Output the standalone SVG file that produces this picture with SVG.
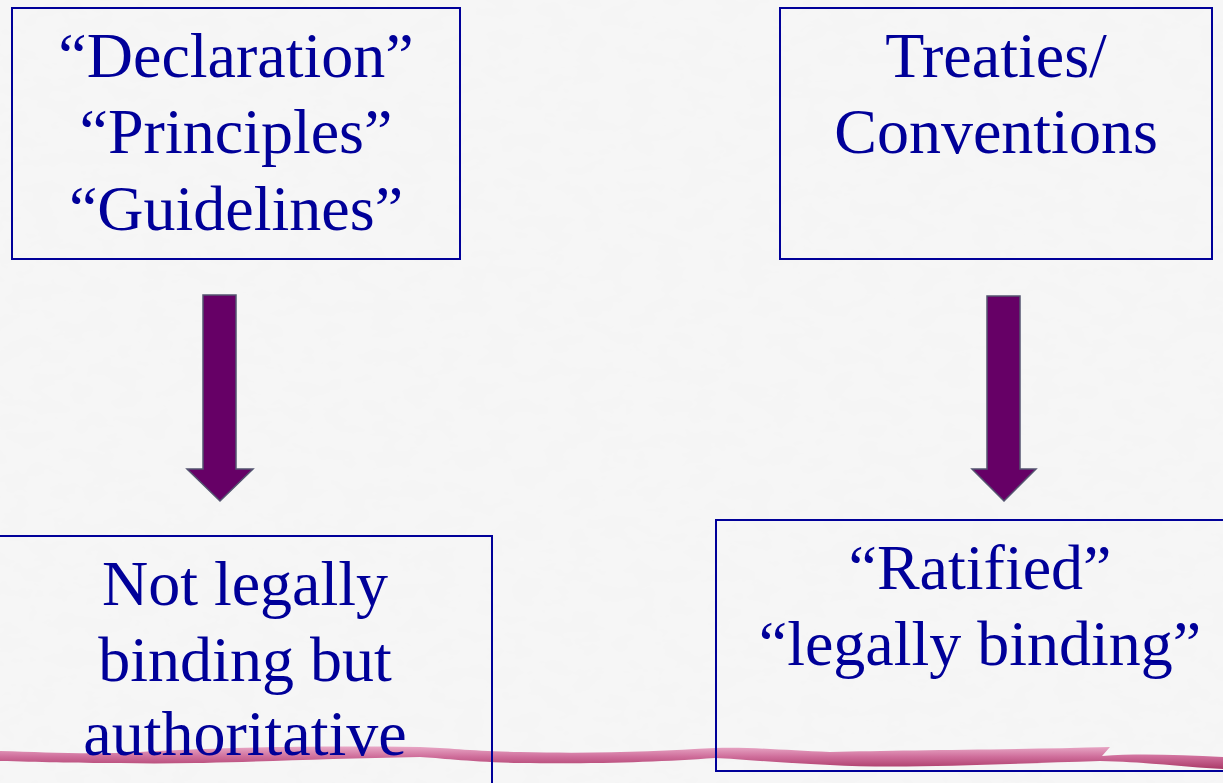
<svg xmlns="http://www.w3.org/2000/svg" width="1223" height="783" viewBox="0 0 1223 783">
  <style>
    .box { fill: none; stroke: #000099; stroke-width: 2; }
    .lbl { font-family: "Liberation Serif", "Times New Roman", serif; font-size: 64px; fill: #000099; text-anchor: middle; }
    .arrow { fill: #660066; stroke: #545470; stroke-width: 1.5; stroke-linejoin: miter; }
  </style>
  <defs>
    <filter id="marble" x="0" y="0" width="100%" height="100%">
      <feTurbulence type="fractalNoise" baseFrequency="0.035 0.06" numOctaves="3" seed="4" result="n"/>
      <feColorMatrix in="n" type="matrix" values="0 0 0 0 0.93  0 0 0 0 0.93  0 0 0 0 0.93  0 0 0 -1.1 0.85"/>
    </filter>
    <linearGradient id="pink" x1="0" y1="0" x2="0" y2="1">
      <stop offset="0" stop-color="#e8a8c6"/>
      <stop offset="0.45" stop-color="#cf6e9b"/>
      <stop offset="1" stop-color="#aa3a68"/>
    </linearGradient>
  </defs>
  <rect width="1223" height="783" fill="#f5f5f5"/>
  <rect width="1223" height="783" filter="url(#marble)"/>

  <g id="brush">
    <path d="M0,751 C40,752 70,754 120,753 C180,750 260,745 420,747 C450,748 470,751 520,752 C600,754 660,751 715,748 C760,747 790,751 830,752 C900,750 1000,750 1110,747 L1102,756 C1140,753 1180,755 1223,757 L1223,769 C1180,767 1150,762 1100,761 C1000,764 900,769 830,765 C780,763 740,759 715,758 C660,762 600,764 520,763 C470,762 440,758 420,757 C300,759 200,765 120,763 C70,763 40,762 0,761 Z" fill="url(#pink)"/>
  </g>

  <g id="connectors">
    <path class="arrow" d="M203,295 L236,295 L236,469 L253,469 L220,501 L187,469 L203,469 Z"/>
    <path class="arrow" d="M987,296 L1020,296 L1020,469 L1036,469 L1004,501 L972,469 L987,469 Z"/>
  </g>

  <g id="node-declaration">
    <rect class="box" x="12" y="8" width="448" height="251"/>
    <text class="lbl" x="236" y="77">“Declaration”</text>
    <text class="lbl" x="236" y="153">“Principles”</text>
    <text class="lbl" x="236" y="230">“Guidelines”</text>
  </g>

  <g id="node-treaties">
    <rect class="box" x="780" y="8" width="432" height="251"/>
    <text class="lbl" x="996" y="77">Treaties/</text>
    <text class="lbl" x="996" y="153">Conventions</text>
  </g>

  <g id="node-not-binding">
    <rect class="box" x="-2" y="536" width="494" height="260"/>
    <text class="lbl" x="245" y="605">Not legally</text>
    <text class="lbl" x="245" y="681">binding but</text>
    <text class="lbl" x="245" y="755">authoritative</text>
  </g>

  <g id="node-ratified">
    <rect class="box" x="716" y="520" width="528" height="251"/>
    <text class="lbl" x="980" y="589">“Ratified”</text>
    <text class="lbl" x="980" y="665">“legally binding”</text>
  </g>
</svg>
